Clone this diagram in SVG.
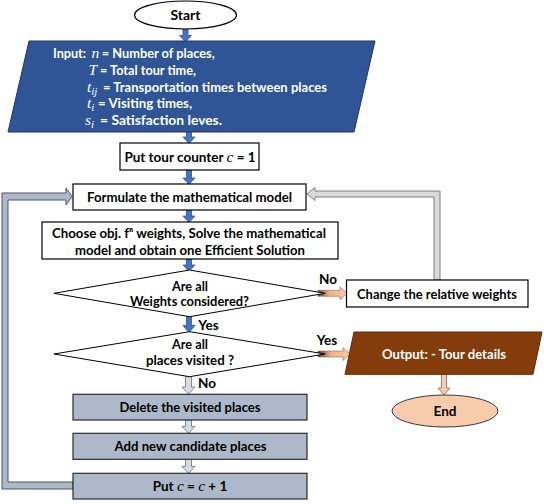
<svg xmlns="http://www.w3.org/2000/svg" width="544" height="504" viewBox="0 0 544 504">
<defs>
<linearGradient id="peachGrad" x1="0" y1="0" x2="1" y2="0">
<stop offset="0" stop-color="#5a463b"/>
<stop offset="0.4" stop-color="#f4b183"/>
<stop offset="1" stop-color="#f8cbad"/>
</linearGradient>
<style>
.t{font-family:Lato,'Liberation Sans',sans-serif;font-weight:700;font-size:13.5px;fill:#000;text-anchor:middle}
.d{font-size:12.8px}
.w{font-family:Lato,'Liberation Sans',sans-serif;font-weight:700;font-size:13.5px;fill:#fff}
.mi{font-family:'Liberation Serif',serif;font-style:italic;font-weight:400;font-size:15.5px}
.sub{font-family:'Liberation Serif',serif;font-style:italic;font-weight:400;font-size:11px}
.box{fill:#fff;stroke:#000;stroke-width:1.2}
.gbox{fill:#adb9ca;stroke:#2b2b2b;stroke-width:1.2}
.dia{fill:#fff;stroke:#000;stroke-width:1}
.ba{fill:#4472c4;stroke:#2f528f;stroke-width:0.8}
.ga{fill:#d6dce4;stroke:#6f6f6f;stroke-width:0.8}
.pa{fill:url(#peachGrad);stroke:#8a6a58;stroke-width:0.6}
.pd{fill:#f8cbad;stroke:#8a6a58;stroke-width:0.8}
</style>
</defs>
<rect width="544" height="504" fill="#fff"/>

<g id="connectors">
<path class="ba" d="M183,29 H188 V35.5 H191.5 L185.5,42 L179.5,35.5 H183 Z"/>
<path class="ba" d="M186.5,132 H191.5 V137 H195 L189,143.5 L183,137 H186.5 Z"/>
<path class="ba" d="M186.5,170 H191.5 V178 H195 L189,184.5 L183,178 H186.5 Z"/>
<path class="ba" d="M186.5,210 H191.5 V216 H195 L189,222.5 L183,216 H186.5 Z"/>
<path class="ba" d="M186.5,259 H191.5 V265 H195 L189,271.5 L183,265 H186.5 Z"/>
<path class="ba" d="M186.5,316.7 H191.5 V325.5 H195 L189,332.5 L183,325.5 H186.5 Z"/>
<path class="ga" d="M185.5,376.7 H191.5 V387 H195 L188.5,394.3 L182,387 H185.5 Z"/>
<path class="ga" d="M185.5,420 H191.5 V426.5 H195 L188.5,433.3 L182,426.5 H185.5 Z"/>
<path class="ga" d="M185.5,459.3 H191.5 V466.5 H195 L188.5,473.3 L182,466.5 H185.5 Z"/>
<path class="pa" d="M318,290.3 H340 V287 L347,293.3 L340,299.7 V296.3 H318 Z"/>
<path class="pa" d="M318,351 H343 V347.5 L350,354 L343,360.5 V357 H318 Z"/>
<path class="pd" d="M441.5,374.3 H446.5 V388 H450 L444,395 L438,388 H441.5 Z"/>
<path d="M73,482 H8 V200 H66 V205 L72,196.5 L66,188 V193 H2 V489 H73 Z" fill="#adb9ca" stroke="#4d5563" stroke-width="1"/>
<path d="M434,280 V197 H315 V200.5 L307,194 L315,187.5 V191 H440 V280 Z" fill="#d9d9d9" stroke="#7f7f7f" stroke-width="1"/>
<text class="t" x="328" y="284">No</text>
<text class="t" x="208.5" y="330">Yes</text>
<text class="t" x="327" y="345">Yes</text>
<text class="t" x="207" y="387.5">No</text>
</g>

<g id="start">
<ellipse cx="185.5" cy="15" rx="51" ry="14" fill="#fff" stroke="#000" stroke-width="1.2"/>
<text class="t" x="185.5" y="20" textLength="30" lengthAdjust="spacingAndGlyphs">Start</text>
</g>

<g id="input">
<polygon points="29,41 375,41 354,132 8,132" fill="#2f5597" stroke="#203864" stroke-width="1"/>
<text class="w" y="58"><tspan x="53" textLength="33" lengthAdjust="spacingAndGlyphs">Input:</tspan><tspan class="mi" x="91.5">n</tspan><tspan x="101.7" textLength="113" lengthAdjust="spacingAndGlyphs">= Number of places,</tspan></text>
<text class="w" y="75"><tspan class="mi" x="88.5">T</tspan><tspan x="100" textLength="96" lengthAdjust="spacingAndGlyphs">= Total tour time,</tspan></text>
<text class="w" y="91.5"><tspan class="mi" x="87">t</tspan><tspan class="sub" dy="3">ij</tspan><tspan x="103" dy="-3" textLength="224" lengthAdjust="spacingAndGlyphs">= Transportation times between places</tspan></text>
<text class="w" y="108"><tspan class="mi" x="87">t</tspan><tspan class="sub" dy="3">i</tspan><tspan x="98" dy="-3" textLength="94" lengthAdjust="spacingAndGlyphs">= Visiting times,</tspan></text>
<text class="w" y="125"><tspan class="mi" x="85">s</tspan><tspan class="sub" dy="3">i</tspan><tspan x="100" dy="-3" textLength="122" lengthAdjust="spacingAndGlyphs">= Satisfaction leves.</tspan></text>
</g>

<g id="counter">
<rect class="box" x="120" y="143" width="139" height="27"/>
<text class="t" x="190" y="161.5">Put tour counter <tspan class="mi">c</tspan> = 1</text>
</g>

<g id="formulate">
<rect class="box" x="73" y="184" width="233" height="26"/>
<text class="t" x="189.5" y="201.5" textLength="205" lengthAdjust="spacingAndGlyphs">Formulate the mathematical model</text>
</g>

<g id="choose">
<rect class="box" x="42" y="222" width="296" height="37"/>
<text class="t" x="189" y="238" textLength="274" lengthAdjust="spacingAndGlyphs">Choose obj. fⁿ weights, Solve the mathematical</text>
<text class="t" x="190" y="255" textLength="230" lengthAdjust="spacingAndGlyphs">model and obtain one Efficient Solution</text>
</g>

<g id="decision-weights">
<polygon class="dia" points="54,293.3 189.5,270 325,293.3 189.5,316.7"/>
<text class="t d" x="190" y="290.5" textLength="36" lengthAdjust="spacingAndGlyphs">Are all</text>
<text class="t d" x="189.5" y="305.5" textLength="119" lengthAdjust="spacingAndGlyphs">Weights considered?</text>
</g>

<g id="change-weights">
<rect class="box" x="346.5" y="280" width="181.5" height="27"/>
<text class="t" x="437" y="298.5" textLength="160" lengthAdjust="spacingAndGlyphs">Change the relative weights</text>
</g>

<g id="decision-places">
<polygon class="dia" points="54,354 189.5,331.7 325,354 189.5,376.7"/>
<text class="t d" x="190" y="349" textLength="36" lengthAdjust="spacingAndGlyphs">Are all</text>
<text class="t d" x="190" y="364.5" textLength="88" lengthAdjust="spacingAndGlyphs">places visited ?</text>
</g>

<g id="output">
<polygon points="354,332 542,332 533,374.3 345,374.3" fill="#843c0c" stroke="#5e2a08" stroke-width="1"/>
<text class="t" x="444" y="358.5" style="fill:#fff" textLength="124" lengthAdjust="spacingAndGlyphs">Output: - Tour details</text>
</g>

<g id="end">
<ellipse cx="445" cy="411" rx="53" ry="16" fill="#f8cbad" stroke="#3a3a3a" stroke-width="1"/>
<text class="t" x="445" y="416" textLength="23" lengthAdjust="spacingAndGlyphs">End</text>
</g>

<g id="delete">
<rect class="gbox" x="73" y="394.3" width="234" height="25.7"/>
<text class="t" x="190" y="412" textLength="141" lengthAdjust="spacingAndGlyphs">Delete the visited places</text>
</g>

<g id="add">
<rect class="gbox" x="73" y="433.3" width="234" height="26"/>
<text class="t" x="190.5" y="451.3" textLength="152" lengthAdjust="spacingAndGlyphs">Add new candidate places</text>
</g>

<g id="increment">
<rect class="gbox" x="73" y="473.3" width="234" height="25.7"/>
<text class="t" x="190" y="491">Put <tspan class="mi">c</tspan> = <tspan class="mi">c</tspan> + 1</text>
</g>
</svg>
